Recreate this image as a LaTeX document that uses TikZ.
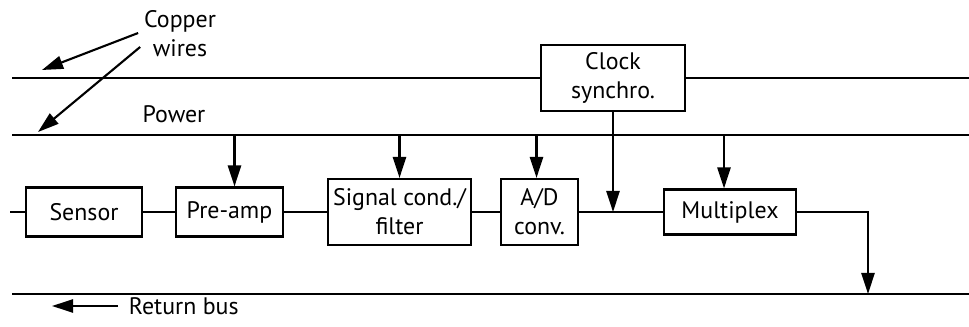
\documentclass[tikz,border=0pt]{standalone}
\usepackage{fontspec}
\setmainfont{PT Sans}
\usetikzlibrary{arrows.meta,calc}

\begin{document}
\begin{tikzpicture}[x=0.02cm, y=-0.02cm,
    font=\fontsize{13.6}{16.5}\selectfont,
    wire/.style={line width=1.2pt},
    sig/.style={line width=1.2pt, -{Triangle[length=12pt, width=7.5pt]}},
    blk/.style={draw, line width=1.2pt, align=center, inner sep=0pt},
    lbl/.style={inner sep=1.5pt, align=center}]
  \useasboundingbox (0,0) rectangle (969,327);

  % buses
  \coordinate (topL) at (12,78);   \coordinate (topR) at (969,78);
  \coordinate (pwL)  at (12,135);  \coordinate (pwR)  at (969,135);
  \coordinate (retL) at (12,294);  \coordinate (retR) at (969,294);
  \coordinate (inL)  at (10,212);
  \coordinate (tap)  at (868,294);

  \node[blk, minimum width=2.88cm, minimum height=1.32cm] (clock) at (613,78) {Clock\\synchro.};
  \draw[wire] (topL) -- (clock.west);
  \draw[wire] (clock.east) -- (topR);
  \draw[wire] (pwL) -- (pwR);
  \draw[wire] (retL) -- (retR);

  % signal chain
  \node[blk, minimum width=2.32cm, minimum height=0.98cm] (sensor) at (84,212) {Sensor};
  \node[blk, minimum width=2.14cm, minimum height=0.98cm] (preamp) at (229.5,212) {Pre-amp};
  \node[blk, minimum width=2.86cm, minimum height=1.32cm] (filter) at (399.5,212) {Signal cond./\\filter};
  \node[blk, minimum width=1.54cm, minimum height=1.32cm] (adconv) at (539.5,212) {A/D\\conv.};
  \node[blk, minimum width=2.64cm, minimum height=0.90cm] (mux) at (730,212) {Multiplex};

  \draw[wire] (inL) -- (sensor.west);
  \draw[wire] (sensor.east) -- (preamp.west);
  \draw[wire] (preamp.east) -- (filter.west);
  \draw[wire] (filter.east) -- (adconv.west);
  \draw[wire] (adconv.east) -- (mux.west);
  \draw[sig] (mux.east) -| (tap);

  % power feeds and clock
  \foreach \b/\dx in {preamp/5, filter/0, adconv/-3, mux/-6}
    \draw[sig] ($(\b.north |- pwL)+(\dx,0)$) -- ($(\b.north)+(\dx,0)$);
  \draw[sig] (clock.south) -- (clock.south |- mux.west);

  % labels
  \node[lbl] (copper) at (180,34) {Copper\\wires};
  \coordinate (cw1) at (42,70);
  \coordinate (cw2) at (38,132);
  \draw[sig] ($(copper.west)+(-3,-1)$) -- (cw1);
  \draw[sig] ($(copper.west)+(-1,13)$) -- (cw2);
  \node[lbl] (power) at (174,114) {Power};

  \node[lbl, anchor=west] (retlbl) at (126,306) {Return bus};
  \coordinate (retend) at (52,306);
  \draw[sig] ($(retlbl.west)+(-8,0)$) -- (retend);
\end{tikzpicture}
\end{document}
